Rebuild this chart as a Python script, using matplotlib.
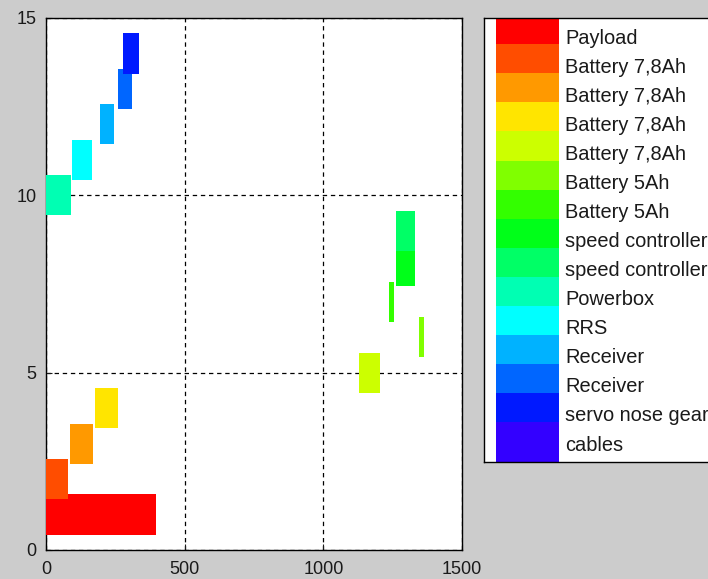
import matplotlib
matplotlib.use('agg')
import matplotlib.pyplot as plt
from matplotlib.colors import hsv_to_rgb
from matplotlib.patches import Rectangle

# components along the fuselage
names = ['Payload', 'Battery 7,8Ah', 'Battery 7,8Ah', 'Battery 7,8Ah', 'Battery 7,8Ah',
         'Battery 5Ah', 'Battery 5Ah', 'speed controller', 'speed controller',
         'Powerbox', 'RRS', 'Receiver', 'Receiver', 'servo nose gear', 'cables']
starts = [0, 0, 85, 175, 1128, 1346, 1235, 1262, 1262, 0, 92, 193, 261, 277, 0]
lengths = [395, 80, 85, 85, 78, 17, 21, 68, 68, 91, 73, 51, 50, 57, 0]
rows = list(range(1, len(names) + 1))

xticks = [0, 500, 1000, 1500]
yticks = [0, 5, 10, 15]

# matlab-like hsv colours
colors = [hsv_to_rgb((i / 20.0, 1.0, 1.0)) for i in range(len(names))]

W, H = 708, 579
fig = plt.figure(figsize=(W / 100, H / 100), dpi=100, facecolor='#cccccc')
plt.rcParams['font.family'] = ['Liberation Sans', 'DejaVu Sans']

# main axes
ax = fig.add_axes([46 / W, (H - 550) / H, (462 - 46) / W, (550 - 18) / H])
ax.barh(rows, lengths, left=starts, height=1.13, color=colors, linewidth=0, zorder=3)
ax.set_xlim(0, 1500)
ax.set_ylim(0, 15)
ax.set_xticks(xticks)
ax.set_yticks(yticks)
ax.tick_params(direction='in', length=4, labelsize=13, colors='#1a1a1a')
ax.tick_params(axis='x', pad=8)
ax.tick_params(axis='y', pad=7)
ax.grid(True, color='black', linewidth=0.9, linestyle=(0, (3.5, 3.0)), zorder=1)
for s in ax.spines.values():
    s.set_linewidth(1.0)
    s.set_color('black')

# legend drawn by hand (matlab style, patches fill the rows)
lx0, ly0, ly1 = 484, 18.3, 461.7
lw_px = 260
lax = fig.add_axes([lx0 / W, (H - ly1) / H, lw_px / W, (ly1 - ly0) / H])
lax.set_xlim(0, lw_px)
lax.set_ylim(ly1 - ly0, 0)
lax.set_xticks([])
lax.set_yticks([])
for s in lax.spines.values():
    s.set_linewidth(1.0)
    s.set_color('black')
pitch = 29.05
for i, (name, c) in enumerate(zip(names, colors)):
    top = (44.3 - ly0) - pitch + pitch * i
    lax.add_patch(Rectangle((12, top), 62.5, 39.7, facecolor=c, edgecolor='none'))
    lax.text(81, (44.3 - ly0) + pitch * i - 0.5, name, fontsize=14.4, va='baseline',
             ha='left', color='#1a1a1a')

fig.savefig('out.png', dpi=100, facecolor=fig.get_facecolor())
